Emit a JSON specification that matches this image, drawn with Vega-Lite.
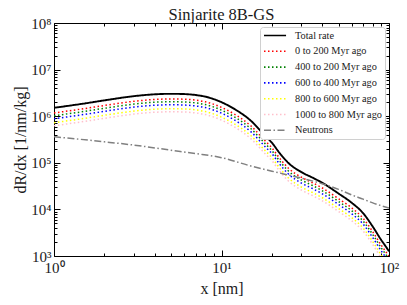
{
  "$schema": "https://vega.github.io/schema/vega-lite/v6.json",
  "width": 335,
  "height": 233,
  "autosize": {"type": "none"},
  "padding": {"left": 54, "top": 23, "right": 18, "bottom": 49},
  "background": "white",
  "config": {
    "font": "Liberation Serif",
    "view": {"stroke": "black", "strokeWidth": 1},
    "axis": {"labelFont": "Liberation Serif", "titleFont": "Liberation Serif", "labelColor": "#1a1a1a", "titleColor": "#1a1a1a", "titleFontWeight": "normal", "grid": false, "domain": false, "ticks": true, "tickColor": "black", "tickWidth": 1, "labelOverlap": false, "labelFlush": false}
  },
  "title": {"text": "Sinjarite 8B-GS", "font": "Liberation Serif", "fontSize": 16.5, "fontWeight": "normal", "color": "#1a1a1a", "offset": -7},
  "data": {"values": [
    {"x":1,"s":"Total rate","y":1514000},{"x":1.5,"s":"Total rate","y":1862000},{"x":2,"s":"Total rate","y":2188000},{"x":3,"s":"Total rate","y":2692000},{"x":4,"s":"Total rate","y":2951000},{"x":5,"s":"Total rate","y":3020000},{"x":6,"s":"Total rate","y":2985000},{"x":7,"s":"Total rate","y":2851000},{"x":8,"s":"Total rate","y":2630000},{"x":10,"s":"Total rate","y":1995000},{"x":12,"s":"Total rate","y":1413000},{"x":15,"s":"Total rate","y":794300},{"x":18,"s":"Total rate","y":398100},{"x":20,"s":"Total rate","y":269200},{"x":22,"s":"Total rate","y":169800},{"x":25,"s":"Total rate","y":100000},{"x":30,"s":"Total rate","y":63100},{"x":35,"s":"Total rate","y":47860},{"x":40,"s":"Total rate","y":37150},{"x":50,"s":"Total rate","y":21880},{"x":60,"s":"Total rate","y":13800},{"x":70,"s":"Total rate","y":8318},{"x":80,"s":"Total rate","y":4266},{"x":90,"s":"Total rate","y":2188},{"x":95,"s":"Total rate","y":1660},{"x":100,"s":"Total rate","y":1259},
    {"x":1,"s":"0 to 200 Myr ago","y":1175000},{"x":1.5,"s":"0 to 200 Myr ago","y":1445000},{"x":2,"s":"0 to 200 Myr ago","y":1698000},{"x":3,"s":"0 to 200 Myr ago","y":2089000},{"x":4,"s":"0 to 200 Myr ago","y":2290000},{"x":5,"s":"0 to 200 Myr ago","y":2344000},{"x":6,"s":"0 to 200 Myr ago","y":2316000},{"x":7,"s":"0 to 200 Myr ago","y":2212000},{"x":8,"s":"0 to 200 Myr ago","y":2041000},{"x":10,"s":"0 to 200 Myr ago","y":1548000},{"x":12,"s":"0 to 200 Myr ago","y":1096000},{"x":15,"s":"0 to 200 Myr ago","y":616000},{"x":18,"s":"0 to 200 Myr ago","y":309000},{"x":20,"s":"0 to 200 Myr ago","y":209000},{"x":22,"s":"0 to 200 Myr ago","y":131800},{"x":25,"s":"0 to 200 Myr ago","y":77600},{"x":30,"s":"0 to 200 Myr ago","y":49000},{"x":35,"s":"0 to 200 Myr ago","y":37100},{"x":40,"s":"0 to 200 Myr ago","y":28800},{"x":50,"s":"0 to 200 Myr ago","y":16980},{"x":60,"s":"0 to 200 Myr ago","y":10710},{"x":70,"s":"0 to 200 Myr ago","y":6450},{"x":80,"s":"0 to 200 Myr ago","y":3310},{"x":90,"s":"0 to 200 Myr ago","y":1698},{"x":95,"s":"0 to 200 Myr ago","y":1288},{"x":100,"s":"0 to 200 Myr ago","y":977},
    {"x":1,"s":"400 to 200 Myr ago","y":1023000},{"x":1.5,"s":"400 to 200 Myr ago","y":1259000},{"x":2,"s":"400 to 200 Myr ago","y":1479000},{"x":3,"s":"400 to 200 Myr ago","y":1820000},{"x":4,"s":"400 to 200 Myr ago","y":1995000},{"x":5,"s":"400 to 200 Myr ago","y":2042000},{"x":6,"s":"400 to 200 Myr ago","y":2018000},{"x":7,"s":"400 to 200 Myr ago","y":1927000},{"x":8,"s":"400 to 200 Myr ago","y":1778000},{"x":10,"s":"400 to 200 Myr ago","y":1349000},{"x":12,"s":"400 to 200 Myr ago","y":955000},{"x":15,"s":"400 to 200 Myr ago","y":537000},{"x":18,"s":"400 to 200 Myr ago","y":269000},{"x":20,"s":"400 to 200 Myr ago","y":182000},{"x":22,"s":"400 to 200 Myr ago","y":114800},{"x":25,"s":"400 to 200 Myr ago","y":67600},{"x":30,"s":"400 to 200 Myr ago","y":42700},{"x":35,"s":"400 to 200 Myr ago","y":32400},{"x":40,"s":"400 to 200 Myr ago","y":25100},{"x":50,"s":"400 to 200 Myr ago","y":14790},{"x":60,"s":"400 to 200 Myr ago","y":9330},{"x":70,"s":"400 to 200 Myr ago","y":5620},{"x":80,"s":"400 to 200 Myr ago","y":2880},{"x":90,"s":"400 to 200 Myr ago","y":1479},{"x":95,"s":"400 to 200 Myr ago","y":1122},{"x":100,"s":"400 to 200 Myr ago","y":851},
    {"x":1,"s":"600 to 400 Myr ago","y":881000},{"x":1.5,"s":"600 to 400 Myr ago","y":1084000},{"x":2,"s":"600 to 400 Myr ago","y":1273000},{"x":3,"s":"600 to 400 Myr ago","y":1567000},{"x":4,"s":"600 to 400 Myr ago","y":1717000},{"x":5,"s":"600 to 400 Myr ago","y":1758000},{"x":6,"s":"600 to 400 Myr ago","y":1737000},{"x":7,"s":"600 to 400 Myr ago","y":1659000},{"x":8,"s":"600 to 400 Myr ago","y":1531000},{"x":10,"s":"600 to 400 Myr ago","y":1161000},{"x":12,"s":"600 to 400 Myr ago","y":822000},{"x":15,"s":"600 to 400 Myr ago","y":462000},{"x":18,"s":"600 to 400 Myr ago","y":232000},{"x":20,"s":"600 to 400 Myr ago","y":157000},{"x":22,"s":"600 to 400 Myr ago","y":98800},{"x":25,"s":"600 to 400 Myr ago","y":58200},{"x":30,"s":"600 to 400 Myr ago","y":36700},{"x":35,"s":"600 to 400 Myr ago","y":27900},{"x":40,"s":"600 to 400 Myr ago","y":21600},{"x":50,"s":"600 to 400 Myr ago","y":12730},{"x":60,"s":"600 to 400 Myr ago","y":8030},{"x":70,"s":"600 to 400 Myr ago","y":4840},{"x":80,"s":"600 to 400 Myr ago","y":2480},{"x":90,"s":"600 to 400 Myr ago","y":1273},{"x":95,"s":"600 to 400 Myr ago","y":966},{"x":100,"s":"600 to 400 Myr ago","y":733},
    {"x":1,"s":"800 to 600 Myr ago","y":725000},{"x":1.5,"s":"800 to 600 Myr ago","y":892000},{"x":2,"s":"800 to 600 Myr ago","y":1048000},{"x":3,"s":"800 to 600 Myr ago","y":1289000},{"x":4,"s":"800 to 600 Myr ago","y":1414000},{"x":5,"s":"800 to 600 Myr ago","y":1447000},{"x":6,"s":"800 to 600 Myr ago","y":1430000},{"x":7,"s":"800 to 600 Myr ago","y":1366000},{"x":8,"s":"800 to 600 Myr ago","y":1260000},{"x":10,"s":"800 to 600 Myr ago","y":956000},{"x":12,"s":"800 to 600 Myr ago","y":677000},{"x":15,"s":"800 to 600 Myr ago","y":380000},{"x":18,"s":"800 to 600 Myr ago","y":191000},{"x":20,"s":"800 to 600 Myr ago","y":129000},{"x":22,"s":"800 to 600 Myr ago","y":81300},{"x":25,"s":"800 to 600 Myr ago","y":47900},{"x":30,"s":"800 to 600 Myr ago","y":30200},{"x":35,"s":"800 to 600 Myr ago","y":22900},{"x":40,"s":"800 to 600 Myr ago","y":17800},{"x":50,"s":"800 to 600 Myr ago","y":10480},{"x":60,"s":"800 to 600 Myr ago","y":6610},{"x":70,"s":"800 to 600 Myr ago","y":3980},{"x":80,"s":"800 to 600 Myr ago","y":2040},{"x":90,"s":"800 to 600 Myr ago","y":1048},{"x":95,"s":"800 to 600 Myr ago","y":795},{"x":100,"s":"800 to 600 Myr ago","y":603},
    {"x":1,"s":"1000 to 800 Myr ago","y":624000},{"x":1.5,"s":"1000 to 800 Myr ago","y":767000},{"x":2,"s":"1000 to 800 Myr ago","y":901000},{"x":3,"s":"1000 to 800 Myr ago","y":1109000},{"x":4,"s":"1000 to 800 Myr ago","y":1216000},{"x":5,"s":"1000 to 800 Myr ago","y":1244000},{"x":6,"s":"1000 to 800 Myr ago","y":1230000},{"x":7,"s":"1000 to 800 Myr ago","y":1175000},{"x":8,"s":"1000 to 800 Myr ago","y":1084000},{"x":10,"s":"1000 to 800 Myr ago","y":822000},{"x":12,"s":"1000 to 800 Myr ago","y":582000},{"x":15,"s":"1000 to 800 Myr ago","y":327000},{"x":18,"s":"1000 to 800 Myr ago","y":164000},{"x":20,"s":"1000 to 800 Myr ago","y":111000},{"x":22,"s":"1000 to 800 Myr ago","y":70000},{"x":25,"s":"1000 to 800 Myr ago","y":41200},{"x":30,"s":"1000 to 800 Myr ago","y":26000},{"x":35,"s":"1000 to 800 Myr ago","y":19700},{"x":40,"s":"1000 to 800 Myr ago","y":15300},{"x":50,"s":"1000 to 800 Myr ago","y":9010},{"x":60,"s":"1000 to 800 Myr ago","y":5690},{"x":70,"s":"1000 to 800 Myr ago","y":3430},{"x":80,"s":"1000 to 800 Myr ago","y":1758},{"x":90,"s":"1000 to 800 Myr ago","y":901},{"x":95,"s":"1000 to 800 Myr ago","y":684},{"x":100,"s":"1000 to 800 Myr ago","y":519},
    {"x":1,"s":"Neutrons","y":363000},{"x":2,"s":"Neutrons","y":282000},{"x":3,"s":"Neutrons","y":240000},{"x":5,"s":"Neutrons","y":186000},{"x":7,"s":"Neutrons","y":158000},{"x":10,"s":"Neutrons","y":129000},{"x":15,"s":"Neutrons","y":85100},{"x":20,"s":"Neutrons","y":66100},{"x":30,"s":"Neutrons","y":46800},{"x":40,"s":"Neutrons","y":35500},{"x":50,"s":"Neutrons","y":26900},{"x":60,"s":"Neutrons","y":20400},{"x":70,"s":"Neutrons","y":16600},{"x":80,"s":"Neutrons","y":13800},{"x":90,"s":"Neutrons","y":12000},{"x":100,"s":"Neutrons","y":10700}
  ]},
  "layer": [
    {
      "mark": {"type": "line", "clip": true, "strokeCap": "butt", "interpolate": "monotone"},
      "encoding": {
        "x": {"field": "x", "type": "quantitative", "scale": {"type": "log", "domain": [1, 100], "nice": false},
          "axis": {"orient": "bottom", "title": "x [nm]", "titleFontSize": 16, "labelFontSize": 15, "titlePadding": 2,
            "values": [1,2,3,4,5,6,7,8,9,10,20,30,40,50,60,70,80,90,100],
            "labelExpr": "abs(log(datum.value)/LN10 - round(log(datum.value)/LN10)) < 0.001 ? '10' + ['⁰','¹','²'][round(log(datum.value)/LN10)] : ''",
            "tickSize": {"condition": {"test": "abs(log(datum.value)/LN10 - round(log(datum.value)/LN10)) < 0.001", "value": -6}, "value": -3},
            "labelPadding": 10}},
        "y": {"field": "y", "type": "quantitative", "scale": {"type": "log", "domain": [1000, 100000000], "nice": false},
          "axis": {"orient": "left", "title": "dR/dx [1/nm/kg]", "titleFontSize": 16, "labelFontSize": 15, "titlePadding": 2,
            "values": [1000,2000,3000,4000,5000,6000,7000,8000,9000,10000,20000,30000,40000,50000,60000,70000,80000,90000,100000,200000,300000,400000,500000,600000,700000,800000,900000,1000000,2000000,3000000,4000000,5000000,6000000,7000000,8000000,9000000,10000000,20000000,30000000,40000000,50000000,60000000,70000000,80000000,90000000,100000000],
            "labelExpr": "abs(log(datum.value)/LN10 - round(log(datum.value)/LN10)) < 0.001 ? '10' + ['⁰','¹','²','³','⁴','⁵','⁶','⁷','⁸'][round(log(datum.value)/LN10)] : ''",
            "tickSize": {"condition": {"test": "abs(log(datum.value)/LN10 - round(log(datum.value)/LN10)) < 0.001", "value": -6}, "value": -3},
            "labelPadding": 9}},
        "color": {"field": "s", "type": "nominal",
          "scale": {"domain": ["Total rate","0 to 200 Myr ago","400 to 200 Myr ago","600 to 400 Myr ago","800 to 600 Myr ago","1000 to 800 Myr ago","Neutrons"],
            "range": ["#000000","#ff0000","#008000","#0000ff","#ffff00","#ffc0cb","#808080"]},
          "legend": {"title": null, "orient": "top-right", "offset": 4, "fillColor": "white", "strokeColor": "#d0d0d0", "cornerRadius": 3, "padding": 3,
            "labelFont": "Liberation Serif", "labelFontSize": 10.3, "labelColor": "#1a1a1a", "labelLimit": 200,
            "symbolType": "M-1,0H3.9", "symbolSize": 81, "symbolStrokeWidth": 1.6, "labelOffset": 21, "rowPadding": 4.8}},
        "strokeDash": {"field": "s", "type": "nominal",
          "scale": {"domain": ["Total rate","0 to 200 Myr ago","400 to 200 Myr ago","600 to 400 Myr ago","800 to 600 Myr ago","1000 to 800 Myr ago","Neutrons"],
            "range": [[1,0],[1.5,2.5],[1.5,2.5],[1.5,2.5],[1.5,2.5],[1.5,2.5],[7,2.5,1.5,2.5]]}},
        "strokeWidth": {"condition": {"test": "datum.s == 'Total rate'", "value": 1.9}, "value": 1.5}
      }
    },
    {
      "mark": {"type": "point", "opacity": 0},
      "encoding": {
        "x": {"field": "x", "type": "quantitative", "scale": {"type": "log", "domain": [1, 100], "nice": false},
          "axis": {"orient": "top", "title": null, "labels": false,
            "values": [1,2,3,4,5,6,7,8,9,10,20,30,40,50,60,70,80,90,100],
            "tickSize": {"condition": {"test": "abs(log(datum.value)/LN10 - round(log(datum.value)/LN10)) < 0.001", "value": -6}, "value": -3}}},
        "y": {"field": "y", "type": "quantitative", "scale": {"type": "log", "domain": [1000, 100000000], "nice": false},
          "axis": {"orient": "right", "title": null, "labels": false,
            "values": [1000,2000,3000,4000,5000,6000,7000,8000,9000,10000,20000,30000,40000,50000,60000,70000,80000,90000,100000,200000,300000,400000,500000,600000,700000,800000,900000,1000000,2000000,3000000,4000000,5000000,6000000,7000000,8000000,9000000,10000000,20000000,30000000,40000000,50000000,60000000,70000000,80000000,90000000,100000000],
            "tickSize": {"condition": {"test": "abs(log(datum.value)/LN10 - round(log(datum.value)/LN10)) < 0.001", "value": -6}, "value": -3}}}
      }
    }
  ],
  "resolve": {"axis": {"x": "independent", "y": "independent"}}
}
